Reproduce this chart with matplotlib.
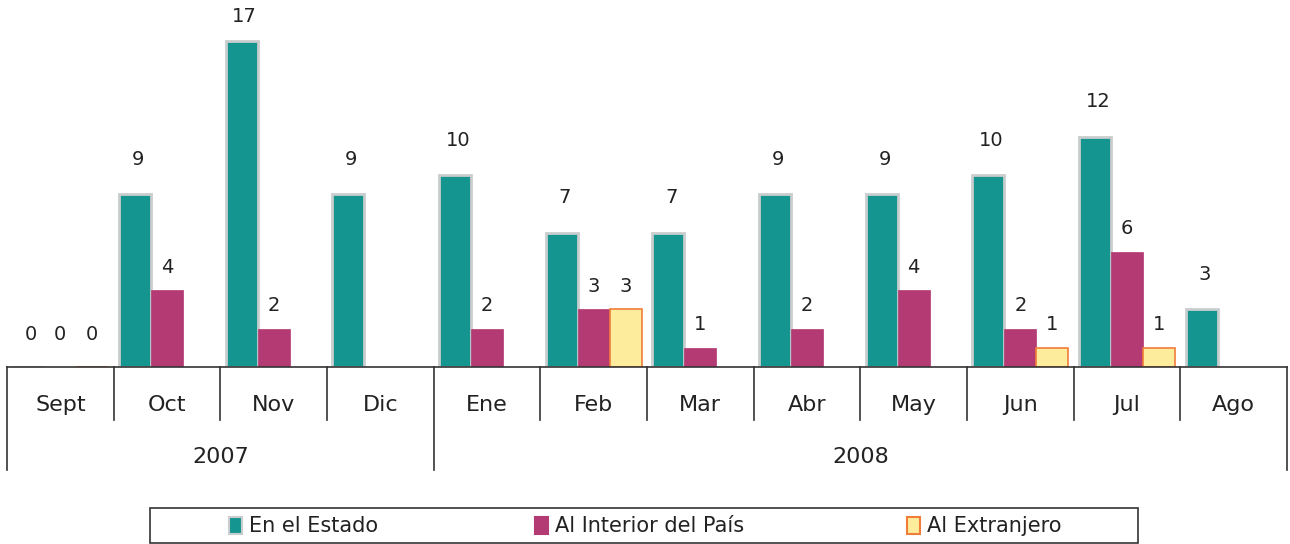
import matplotlib.pyplot as plt
from matplotlib.patches import Rectangle
import numpy as np

# Data
months = ['Sept', 'Oct', 'Nov', 'Dic', 'Ene', 'Feb', 'Mar', 'Abr', 'May', 'Jun', 'Jul', 'Ago']
years = ['2007', '2008']
year_spans = [(0, 4), (4, 12)]  # month index ranges for each year
series_names = ['En el Estado', 'Al Interior del País', 'Al Extranjero']
en_estado = [0, 9, 17, 9, 10, 7, 7, 9, 9, 10, 12, 3]
interior = [0, 4, 2, None, 2, 3, 1, 2, 4, 2, 6, None]
extranjero = [0, None, None, None, None, 3, None, None, None, 1, 1, None]

face_colors = ['#15958F', '#B33A73', '#FCEC9B']
edge_colors = ['#C9CDCD', '#B33A73', '#F07D3A']
edge_widths = [2.0, 0.5, 1.2]
label_gap = [35, 23, 23]  # px between bar top and label centre

W, H = 1290, 544
fig = plt.figure(figsize=(W / 100, H / 100), dpi=100)
plt.rcParams['font.family'] = ['DejaVu Sans']

ax = fig.add_axes([7 / W, (H - 367) / H, 1280 / W, 367 / H])
px_per_unit = 19.2
ax.set_xlim(-0.5, len(months) - 0.5)
ax.set_ylim(0, 367 / px_per_unit)
ax.axis('off')

x = np.arange(len(months))
bar_w = 0.3
for i, vals in enumerate([en_estado, interior, extranjero]):
  v = np.array([np.nan if val is None else val for val in vals], dtype=float)
  pos = x + (i - 1) * bar_w
  ax.bar(pos, v, bar_w, color=face_colors[i], edgecolor=edge_colors[i],
         linewidth=edge_widths[i], zorder=2)
  for px, val in zip(pos, vals):
    if val is None:
      continue
    gap = 33 if val == 0 else label_gap[i]
    # keep the label inside the top edge of the figure
    gap = min(gap, 367 - 17 - val * px_per_unit)
    ax.annotate(str(val), (px, val), xytext=(2 if i == 0 else 0, gap * 0.72),
                textcoords='offset points', ha='center', va='center',
                fontsize=14, color='#222222')

# Category table below the plot
tr = ax.get_xaxis_transform()
line_kw = dict(transform=tr, clip_on=False, color='#333333', linewidth=1.2)
ax.plot([-0.5, len(months) - 0.5], [0, 0], **line_kw)
month_row = -53 / 367
year_row = -103 / 367
for b in range(len(months) + 1):
  edge = b - 0.5
  bottom = year_row if b in (0, 4, len(months)) else month_row
  ax.plot([edge, edge], [0, bottom], **line_kw)
for i, m in enumerate(months):
  ax.text(i, -38 / 367, m, transform=tr, ha='center', va='center', fontsize=16, color='#222222')
for (a, b), yr in zip(year_spans, years):
  ax.text((a + b - 1) / 2, -90 / 367, yr, transform=tr, ha='center', va='center',
          fontsize=16, color='#222222')

# Legend box
fig.add_artist(Rectangle((150 / W, 1 / H), 988 / W, 35 / H, transform=fig.transFigure,
                         facecolor='none', edgecolor='#333333', linewidth=1.2))
legend_x = [229, 535, 907]
for lx, name, fc, ec in zip(legend_x, series_names, face_colors, edge_colors):
  fig.add_artist(Rectangle((lx / W, 10 / H), 13 / W, 17 / H, transform=fig.transFigure,
                           facecolor=fc, edgecolor=ec, linewidth=1.5))
  fig.text((lx + 20) / W, 18 / H, name, ha='left', va='center', fontsize=15, color='#222222')

fig.savefig('out.png', dpi=100)
